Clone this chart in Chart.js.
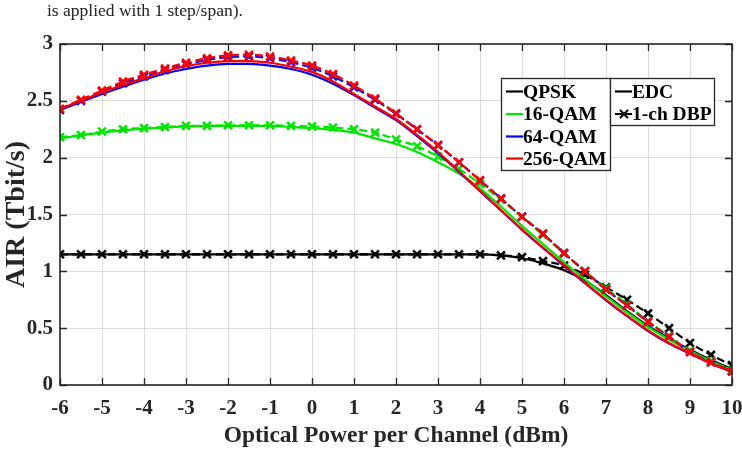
<!DOCTYPE html>
<html>
<head>
<meta charset="utf-8">
<script src="https://cdn.jsdelivr.net/npm/chart.js@4.4.1/dist/chart.umd.min.js"></script>
<style>
  html, body { margin: 0; padding: 0; background: #fff; }
  #wrap { position: relative; width: 742px; height: 450px; overflow: hidden; }
  #cap { position: absolute; left: 47px; top: 0px; font: 17.5px "Liberation Serif", "Times New Roman", serif; color: #222; white-space: nowrap; }
  canvas { position: absolute; left: 0; top: 0; }
</style>
</head>
<body>
<div id="wrap">
  <canvas id="c" width="742" height="450"></canvas>
  <div id="cap">is applied with 1 step/span).</div>
</div>
<script>
// ---- data ----
const powerDbm = [-6,-5.5,-5,-4.5,-4,-3.5,-3,-2.5,-2,-1.5,-1,-0.5,0,0.5,1,1.5,2,2.5,3,3.5,4,4.5,5,5.5,6,6.5,7,7.5,8,8.5,9,9.5,10];
const xTicks = [-6,-5,-4,-3,-2,-1,0,1,2,3,4,5,6,7,8,9,10];
const yTicks = [0,0.5,1,1.5,2,2.5,3];

const qpskEDC = [1.15,1.15,1.15,1.15,1.15,1.15,1.15,1.15,1.15,1.15,1.15,1.15,1.15,1.15,1.15,1.15,1.15,1.15,1.15,1.15,1.15,1.14,1.115,1.07,1.01,0.92,0.79,0.65,0.52,0.41,0.31,0.22,0.14];
const qpskDBP = [1.15,1.15,1.15,1.15,1.15,1.15,1.15,1.15,1.15,1.15,1.15,1.15,1.15,1.15,1.15,1.15,1.15,1.15,1.15,1.15,1.15,1.14,1.125,1.09,1.05,0.97,0.86,0.75,0.63,0.50,0.37,0.265,0.175];
const qam16EDC = [2.17,2.195,2.22,2.24,2.255,2.265,2.275,2.28,2.28,2.28,2.28,2.27,2.26,2.245,2.22,2.17,2.12,2.05,1.96,1.86,1.73,1.57,1.40,1.24,1.08,0.93,0.78,0.64,0.51,0.40,0.30,0.21,0.13];
const qam16DBP = [2.18,2.20,2.23,2.25,2.26,2.27,2.28,2.28,2.285,2.285,2.285,2.28,2.275,2.265,2.25,2.22,2.16,2.10,2.01,1.90,1.77,1.63,1.48,1.32,1.16,1.00,0.85,0.71,0.56,0.43,0.30,0.21,0.13];
const qam64EDC = [2.42,2.49,2.56,2.625,2.685,2.74,2.78,2.81,2.825,2.825,2.81,2.78,2.73,2.65,2.55,2.44,2.33,2.19,2.04,1.875,1.705,1.535,1.365,1.205,1.05,0.895,0.745,0.605,0.475,0.365,0.275,0.19,0.115];
const qam64DBP = [2.42,2.50,2.58,2.655,2.715,2.77,2.82,2.86,2.885,2.89,2.875,2.84,2.79,2.715,2.62,2.51,2.385,2.25,2.11,1.96,1.80,1.64,1.48,1.33,1.16,1.00,0.84,0.70,0.555,0.425,0.29,0.20,0.12];
const qam256EDC = [2.43,2.50,2.575,2.64,2.70,2.76,2.805,2.835,2.85,2.85,2.835,2.80,2.755,2.67,2.56,2.45,2.34,2.20,2.05,1.88,1.71,1.54,1.37,1.21,1.055,0.90,0.75,0.61,0.48,0.37,0.28,0.19,0.117];
const qam256DBP = [2.43,2.51,2.59,2.67,2.73,2.785,2.835,2.875,2.90,2.905,2.89,2.855,2.81,2.735,2.635,2.52,2.39,2.25,2.11,1.96,1.80,1.64,1.48,1.33,1.16,1.00,0.84,0.70,0.555,0.425,0.29,0.20,0.12];

const formats = ["QPSK","16-QAM","64-QAM","256-QAM"];
const schemes = ["EDC","1-ch DBP"];
const colors = ["#000000","#00e600","#0000ff","#ff0000"];

const FONT = '"Liberation Serif", "Times New Roman", serif';

function pts(arr){ return arr.map((v,i)=>({x: powerDbm[i], y: v})); }
function solid(arr, col){
  return { data: pts(arr), borderColor: col, backgroundColor: col, borderWidth: 2.2, pointRadius: 0,
           cubicInterpolationMode: 'monotone', fill: false };
}
function dashed(arr, col){
  return { data: pts(arr), borderColor: col, backgroundColor: col, borderWidth: 2.2, borderDash: [8,4],
           pointStyle: 'crossRot', pointRadius: 5.5, pointBorderWidth: 2.6, pointBorderColor: col,
           cubicInterpolationMode: 'monotone', fill: false };
}

// Chart.js paints the first dataset last (on top), so list the top-most first
const datasets = [
  dashed(qam256DBP, colors[3]), solid(qam256EDC, colors[3]),
  dashed(qam64DBP, colors[2]), solid(qam64EDC, colors[2]),
  dashed(qam16DBP, colors[1]), solid(qam16EDC, colors[1]),
  dashed(qpskDBP, colors[0]), solid(qpskEDC, colors[0])
];

const frame = {
  id: 'frame',
  afterDatasetsDraw(chart){
    const {ctx, chartArea:a, scales:{x, y}} = chart;
    ctx.save();
    ctx.strokeStyle = '#262626';
    ctx.lineWidth = 1.3;
    const tl = 7;
    ctx.beginPath();
    xTicks.forEach(t=>{
      const px = Math.round(x.getPixelForValue(t))+0.5;
      ctx.moveTo(px, a.bottom); ctx.lineTo(px, a.bottom - tl);
      ctx.moveTo(px, a.top); ctx.lineTo(px, a.top + tl);
    });
    yTicks.forEach(t=>{
      const py = Math.round(y.getPixelForValue(t))+0.5;
      ctx.moveTo(a.left, py); ctx.lineTo(a.left + tl, py);
      ctx.moveTo(a.right, py); ctx.lineTo(a.right - tl, py);
    });
    ctx.stroke();
    ctx.lineWidth = 1.6;
    ctx.strokeRect(a.left, a.top, a.right - a.left, a.bottom - a.top);

    // legend box 1 (formats)
    const bx = 501.5, by = 78.5, bw = 109, bh = 92;
    ctx.fillStyle = '#fff';
    ctx.fillRect(bx, by, bw, bh);
    ctx.strokeStyle = '#262626'; ctx.lineWidth = 1.3;
    ctx.strokeRect(bx, by, bw, bh);
    ctx.font = 'bold 19.5px ' + FONT;
    ctx.textBaseline = 'middle';
    ctx.textAlign = 'left';
    const rows = [91.5, 114, 136.5, 158.5];
    formats.forEach((f,i)=>{
      ctx.strokeStyle = colors[i]; ctx.lineWidth = 2.2; ctx.setLineDash([]);
      ctx.beginPath(); ctx.moveTo(506, rows[i]); ctx.lineTo(523, rows[i]); ctx.stroke();
      ctx.fillStyle = '#000';
      ctx.fillText(f, 523, rows[i] + 1);
    });
    // legend box 2 (schemes)
    const cx = 610.5, cy = 78.5, cw = 104, ch = 47;
    ctx.fillStyle = '#fff';
    ctx.fillRect(cx, cy, cw, ch);
    ctx.strokeStyle = '#262626'; ctx.lineWidth = 1.3;
    ctx.strokeRect(cx, cy, cw, ch);
    ctx.strokeStyle = '#000'; ctx.lineWidth = 2.2;
    ctx.beginPath(); ctx.moveTo(615, rows[0]); ctx.lineTo(632, rows[0]); ctx.stroke();
    ctx.fillStyle = '#000';
    ctx.fillText(schemes[0], 632, rows[0] + 1);
    ctx.setLineDash([7,3]);
    ctx.beginPath(); ctx.moveTo(615, rows[1]); ctx.lineTo(632, rows[1]); ctx.stroke();
    ctx.setLineDash([]);
    ctx.beginPath();
    ctx.moveTo(620, rows[1]-4); ctx.lineTo(628, rows[1]+4);
    ctx.moveTo(620, rows[1]+4); ctx.lineTo(628, rows[1]-4);
    ctx.stroke();
    ctx.fillText(schemes[1], 632, rows[1] + 1);
    ctx.restore();
  }
};

new Chart(document.getElementById('c'), {
  type: 'line',
  data: { datasets },
  options: {
    responsive: false,
    animation: false,
    layout: { padding: { top: 44, right: 0, left: 0, bottom: 0 } },
    plugins: { legend: { display: false }, tooltip: { enabled: false } },
    scales: {
      x: {
        type: 'linear', min: -6, max: 10,
        afterFit(s){ s.height = 65; s.paddingRight = 10; s.paddingLeft = 0; },
        afterBuildTicks(s){ s.ticks = xTicks.map(v=>({value: v})); },
        grid: { color: 'rgba(0,0,0,0.13)', drawTicks: false, lineWidth: 1 },
        border: { display: false },
        ticks: { padding: 11, color: '#262626', font: { family: FONT, size: 21, weight: 'bold' }, maxRotation: 0, autoSkip: false,
                 callback: v => String(v) },
        title: { display: true, text: 'Optical Power per Channel (dBm)', color: '#262626',
                 font: { family: FONT, size: 23.5, weight: 'bold' }, padding: { top: 0, bottom: 0 } }
      },
      y: {
        type: 'linear', min: 0, max: 3,
        afterFit(s){ s.width = 60; s.paddingTop = 0; s.paddingBottom = 0; },
        afterBuildTicks(s){ s.ticks = yTicks.map(v=>({value: v})); },
        grid: { color: 'rgba(0,0,0,0.13)', drawTicks: false, lineWidth: 1 },
        border: { display: false },
        ticks: { padding: 7, color: '#262626', font: { family: FONT, size: 21, weight: 'bold' },
                 callback: v => String(v) },
        title: { display: true, text: 'AIR (Tbit/s)', color: '#262626',
                 font: { family: FONT, size: 28, weight: 'bold' }, padding: { top: 0, bottom: 0 } }
      }
    }
  },
  plugins: [frame]
});
</script>
</body>
</html>
